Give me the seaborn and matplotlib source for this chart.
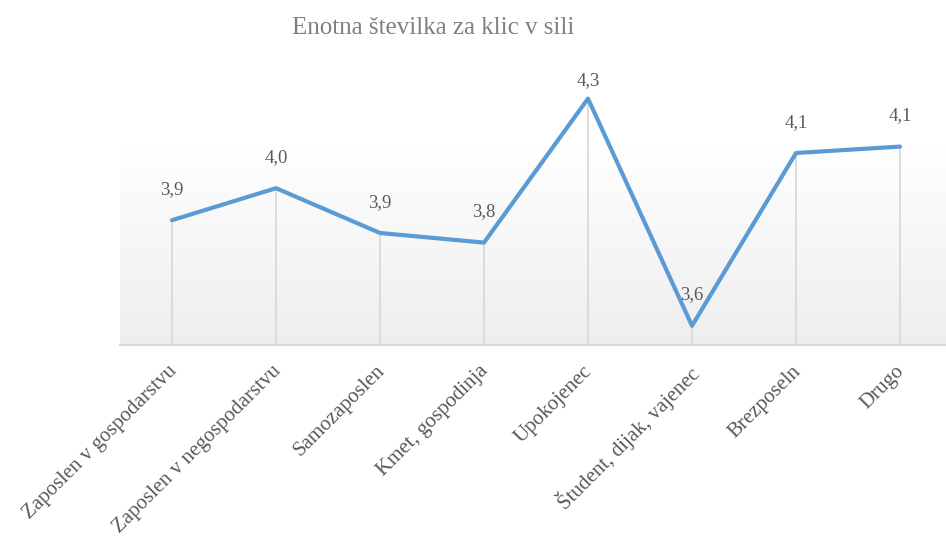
import numpy as np
import pandas as pd
import matplotlib
matplotlib.use("Agg")
import matplotlib.pyplot as plt
import matplotlib.transforms as mtransforms
import seaborn as sns

categories = ['Zaposlen v gospodarstvu', 'Zaposlen v negospodarstvu', 'Samozaposlen',
              'Kmet, gospodinja', 'Upokojenec', 'Študent, dijak, vajenec', 'Brezposeln', 'Drugo']
values = [3.90, 4.00, 3.86, 3.83, 4.28, 3.57, 4.11, 4.13]
labels = ['3,9', '4,0', '3,9', '3,8', '4,3', '3,6', '4,1', '4,1']

df = pd.DataFrame({'kat': categories, 'vrednost': values})

sns.set_style('white')
plt.rcParams['font.family'] = ['Liberation Serif', 'DejaVu Serif']

fig = plt.figure(figsize=(9.46, 5.42), dpi=100)
ax = fig.add_axes([120 / 946, 1 - 345 / 542, 832 / 946, 288 / 542])

ymin, ymax = 3.51, 4.41

# gradient background (white at top, light gray at bottom)
grad = np.linspace(1.0, 0.0, 256).reshape(-1, 1)
cmap = matplotlib.colors.LinearSegmentedColormap.from_list(
    'g', [(0, '#eeeeee'), (0.7, '#ffffff'), (1, '#ffffff')])
ax.imshow(grad, aspect='auto', cmap=cmap, extent=[-0.5, 7.5, ymin, ymax],
          origin='upper', zorder=0, vmin=0, vmax=1)

x = np.arange(len(categories))
ax.vlines(x, ymin, df['vrednost'], color='#d9d9d9', linewidth=1.3, zorder=1)
sns.lineplot(x=x, y=df['vrednost'], ax=ax, color='#5b9bd5', linewidth=3.0, zorder=3)

for i, (v, lab) in enumerate(zip(values, labels)):
    off = 7 if v == max(values) else 16
    ax.annotate(lab, (i, v), xytext=(0, off), textcoords='offset points',
                ha='center', va='bottom', fontsize=13.5, color='#595959')

ax.set_xlim(-0.5, 7.5)
ax.set_ylim(ymin, ymax)
ax.set_yticks([])
ax.set_xticks(x)
ax.set_xticklabels(categories, rotation=45, ha='right', rotation_mode='anchor',
                   fontsize=15, color='#595959')
ax.tick_params(axis='x', length=0, pad=12)
offset = mtransforms.ScaledTranslation(-5 / 100, 0, fig.dpi_scale_trans)
for t in ax.get_xticklabels():
    t.set_transform(t.get_transform() + offset)

for s in ['top', 'left', 'right']:
    ax.spines[s].set_visible(False)
ax.spines['bottom'].set_color('#d9d9d9')
ax.spines['bottom'].set_linewidth(1.5)
ax.set_xlabel('')
ax.set_ylabel('')

fig.text(433 / 946, 1 - 28 / 542, 'Enotna številka za klic v sili', ha='center', va='center',
         fontsize=18, color='#808080')

fig.savefig('out.png', dpi=100)
